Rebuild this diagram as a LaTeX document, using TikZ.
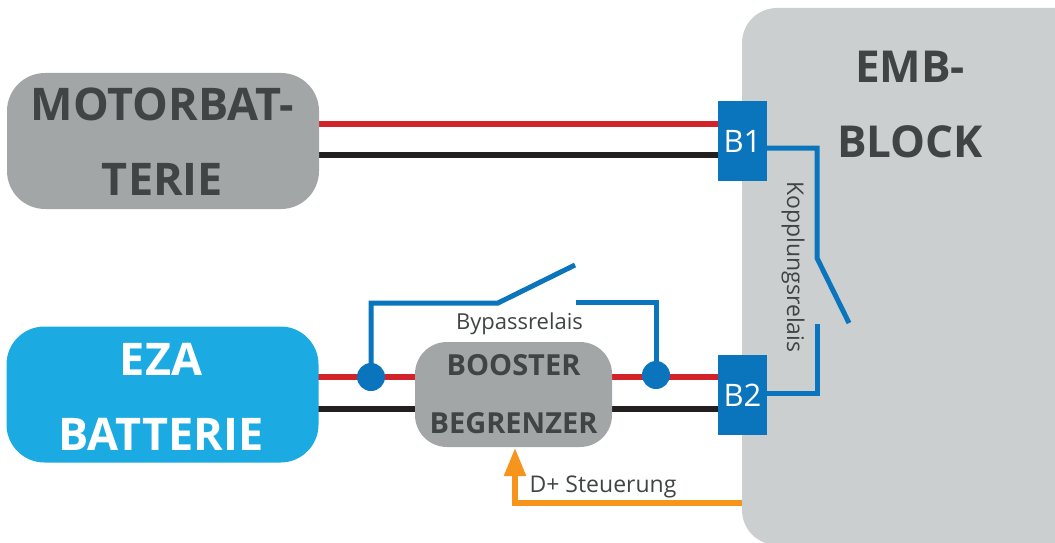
\documentclass[tikz,border=0pt]{standalone}
\usepackage{fontspec}
\setmainfont{Open Sans}
\usetikzlibrary{arrows.meta}
\definecolor{relaisblue}{HTML}{0A75BC}
\definecolor{ezablue}{HTML}{1BABE2}
\definecolor{boxgrey}{HTML}{A3A6A7}
\definecolor{blockgrey}{HTML}{CBCFD0}
\definecolor{textgrey}{HTML}{404444}
\definecolor{plusred}{HTML}{D2232A}
\definecolor{minusblack}{HTML}{231F20}
\definecolor{signalorange}{HTML}{F7941E}
\tikzset{
    bigbox/.style={shape=rectangle, rounded corners=38pt, inner sep=0pt, minimum width=312pt, minimum height=136pt},
    bigtext/.style={inner sep=0pt, align=center, font=\fontsize{45}{75}\selectfont\bfseries},
    terminal/.style={shape=rectangle, fill=relaisblue, inner sep=0pt, minimum width=49pt, minimum height=80pt, text=white, font=\fontsize{31}{36}\selectfont},
    junction/.style={shape=circle, fill=relaisblue, inner sep=0pt, minimum size=28pt},
    caption/.style={text=textgrey, inner sep=0pt, font=\fontsize{23}{27}\selectfont},
    plusline/.style={draw=plusred, line width=5.5pt},
    minusline/.style={draw=minusblack, line width=5.5pt},
    relaisline/.style={draw=relaisblue, line width=5pt, line join=miter},
    signalline/.style={draw=signalorange, line width=5.5pt, -{Triangle[length=28pt, width=21pt]}}
}
\begin{document}
\begin{tikzpicture}[x=1pt, y=-1pt]

    \useasboundingbox (0,0) rectangle (1055,543);

    % lines go first, the boxes sit on top of them
    \coordinate (M1) at (319,124);
    \coordinate (M2) at (319,155);
    \coordinate (B1a) at (718,124);
    \coordinate (B1b) at (718,155);
    \coordinate (E1) at (318,377);
    \coordinate (E2) at (318,409);
    \coordinate (B2a) at (718,377);
    \coordinate (B2b) at (718,409);

    \draw[plusline] (M1) -- (B1a);
    \draw[minusline] (M2) -- (B1b);
    \draw[plusline] (E1) -- (B2a);
    \draw[minusline] (E2) -- (B2b);

    \node[bigbox, fill=boxgrey] (motor) at (163,141) {};
    \node[bigtext, text=textgrey] (motortext) at (162.5,142) {MOTORBAT-\\TERIE};
    \node[bigbox, fill=ezablue] (eza) at (162.5,394.5) {};
    \node[bigtext, text=white] (ezatext) at (161,396.5) {EZA\\BATTERIE};
    \node[shape=rectangle, fill=blockgrey, rounded corners=35pt, inner sep=0pt, minimum width=360pt, minimum height=537pt] (emb) at (922,276.5) {};
    \node[bigtext, text=textgrey, font=\fontsize{44}{75}\selectfont\bfseries] (embtext) at (910,105) {EMB-\\BLOCK};

    \node[shape=rectangle, fill=boxgrey, rounded corners=32pt, inner sep=0pt, minimum width=197pt, minimum height=105pt, text=textgrey, align=center, font=\fontsize{29}{58}\selectfont\bfseries] (booster) at (513.5,394.5) {BOOSTER\\BEGRENZER};

    \node[terminal] (B1) at (742.5,141) {B1};
    \node[terminal] (B2) at (742.5,395) {B2};

    \node[junction] (J1) at (371,377) {};
    \node[junction] (J2) at (656,375) {};

    % bypass switch
    \coordinate (S1) at (498,303);
    \coordinate (S2) at (575,265);
    \coordinate (S3) at (576,302);
    \draw[relaisline] (J1.center) |- (S1) -- (S2);
    \draw[relaisline] (S3) -| (J2.center);

    % coupling switch
    \coordinate (K1) at (817,258);
    \coordinate (K2) at (849,323);
    \coordinate (K3) at (817,324);
    \draw[relaisline] (B1.east |- 0,148) -| (K1) -- (K2);
    \draw[relaisline] (K3) |- (B2.east |- 0,393);

    % D+ control line
    \coordinate (D1) at (742,503);
    \coordinate (D2) at (515,503);
    \draw[signalline] (D1) -- (D2) -- (515,448);

    \node[caption, font=\fontsize{22}{27}\selectfont] (bypass) at (519.5,324) {Bypassrelais};
    \node[caption] (dplus) at (603,487) {D+ Steuerung};
    \node[caption, rotate=-90] (kopplung) at (793,267) {Kopplungsrelais};

\end{tikzpicture}
\end{document}
